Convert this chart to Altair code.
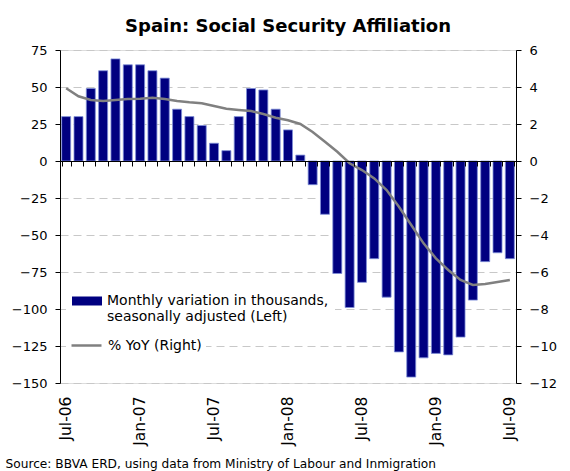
import altair as alt
import pandas as pd

months = ["Jul-06", "Aug-06", "Sep-06", "Oct-06", "Nov-06", "Dec-06",
          "Jan-07", "Feb-07", "Mar-07", "Apr-07", "May-07", "Jun-07",
          "Jul-07", "Aug-07", "Sep-07", "Oct-07", "Nov-07", "Dec-07",
          "Jan-08", "Feb-08", "Mar-08", "Apr-08", "May-08", "Jun-08",
          "Jul-08", "Aug-08", "Sep-08", "Oct-08", "Nov-08", "Dec-08",
          "Jan-09", "Feb-09", "Mar-09", "Apr-09", "May-09", "Jun-09",
          "Jul-09"]

monthly_variation = [30, 30, 49, 61, 69, 65, 65, 61, 56, 35, 30, 24,
                     12, 7, 30, 49, 48, 35, 21, 4, -16, -36, -76, -99,
                     -82, -66, -92, -129, -146, -133, -130, -131, -119, -94, -68, -62,
                     -66]

yoy = [3.93, 3.50, 3.30, 3.24, 3.30, 3.35, 3.37, 3.42, 3.35, 3.24, 3.17, 3.12,
       2.97, 2.83, 2.76, 2.70, 2.54, 2.34, 2.20, 2.00, 1.57, 1.04, 0.50, -0.12,
       -0.49, -0.94, -1.57, -2.47, -3.46, -4.45, -5.26, -5.89, -6.43, -6.70, -6.65, -6.54,
       -6.43]

tick_labels = ["Jul-06", "Jan-07", "Jul-07", "Jan-08", "Jul-08", "Jan-09", "Jul-09"]
left_ticks = [-150, -125, -100, -75, -50, -25, 0, 25, 50, 75]
right_ticks = [-12, -10, -8, -6, -4, -2, 0, 2, 4, 6]

bar_label = "Monthly variation in thousands,|seasonally adjusted (Left)"
line_label = "% YoY (Right)"
title_text = "Spain: Social Security Affiliation"
source_text = "Source: BBVA ERD, using data from Ministry of Labour and Inmigration"

df = pd.DataFrame({
    "month": months,
    "bars": monthly_variation,
    "yoy": yoy,
    "s1": [bar_label] * len(months),
    "s2": [line_label] * len(months),
})

FONT = "DejaVu Sans"
xscale = alt.Scale(paddingInner=0.27, paddingOuter=0.135)

bars = alt.Chart(df).mark_bar(stroke="#7f8fd8", strokeWidth=0.8).encode(
    x=alt.X("month:N", sort=months, scale=xscale,
            axis=alt.Axis(orient="bottom", offset=-222, labels=False, ticks=True,
                          tickBand="extent", tickSize=5, tickColor="black",
                          domain=True, domainColor="black", domainWidth=1,
                          grid=False, title=None, zindex=1)),
    y=alt.Y("bars:Q", scale=alt.Scale(domain=[-150, 75], nice=False, zero=False),
            axis=alt.Axis(orient="left", values=left_ticks, grid=True,
                          gridDash=[8, 5], gridColor="#c8c8c8", gridWidth=1,
                          domainColor="black", tickColor="black", tickSize=5,
                          labelFontSize=13, labelColor="black", labelPadding=8,
                          title=None, labelFont=FONT)),
    fill=alt.Fill("s1:N", scale=alt.Scale(range=["#000080"]),
                  legend=alt.Legend(title=None, orient="none", legendX=6, legendY=230,
                                    symbolType="M-1,-0.3H1V0.3H-1Z", symbolSize=900,
                                    symbolStrokeWidth=0, labelExpr="split(datum.label, '|')",
                                    labelFontSize=14, labelFont=FONT, labelColor="black",
                                    labelOffset=5, labelLimit=400, fillColor="white",
                                    padding=6)),
)

line = alt.Chart(df).mark_line(strokeWidth=2.5).encode(
    x=alt.X("month:N", sort=months, scale=xscale,
            axis=alt.Axis(orient="bottom", values=tick_labels, labelAngle=270,
                          labelAlign="right", labelBaseline="middle",
                          labelFontSize=15.5, labelFont=FONT, labelColor="black",
                          labelPadding=13, ticks=False, domain=False, grid=False,
                          title=source_text, titleX=-55, titleY=84,
                          titleAlign="left", titleBaseline="alphabetic",
                          titleFontWeight="normal", titleFontSize=12.2,
                          titleFont=FONT, titleColor="black")),
    y=alt.Y("yoy:Q", scale=alt.Scale(domain=[-12, 6], nice=False, zero=False),
            axis=alt.Axis(orient="right", values=right_ticks, grid=False,
                          domainColor="black", tickColor="black", tickSize=5,
                          labelFontSize=13, labelColor="black", labelPadding=8,
                          title=None, labelFont=FONT)),
    stroke=alt.Stroke("s2:N", scale=alt.Scale(range=["#808080"]),
                      legend=alt.Legend(title=None, orient="none", legendX=6, legendY=275,
                                        symbolType="stroke", symbolSize=900,
                                        symbolStrokeWidth=2.5,
                                        labelFontSize=14, labelFont=FONT, labelColor="black",
                                        labelOffset=5, fillColor="white", padding=4)),
)

chart = alt.layer(bars, line).resolve_scale(
    y="independent"
).resolve_axis(
    x="independent"
).properties(
    width=456,
    height=333,
    autosize=alt.AutoSizeParams(type="none"),
    padding={"left": 60, "top": 50, "right": 54, "bottom": 88},
    title=alt.TitleParams(text=title_text, font=FONT, fontSize=18, fontWeight="bold",
                          anchor="middle", frame="group", color="black", offset=14,
                          baseline="alphabetic", dy=20),
    background="white",
).configure_view(stroke=None).configure(font=FONT)

chart.save("out.html", embed_options={"renderer": "svg", "actions": False})
